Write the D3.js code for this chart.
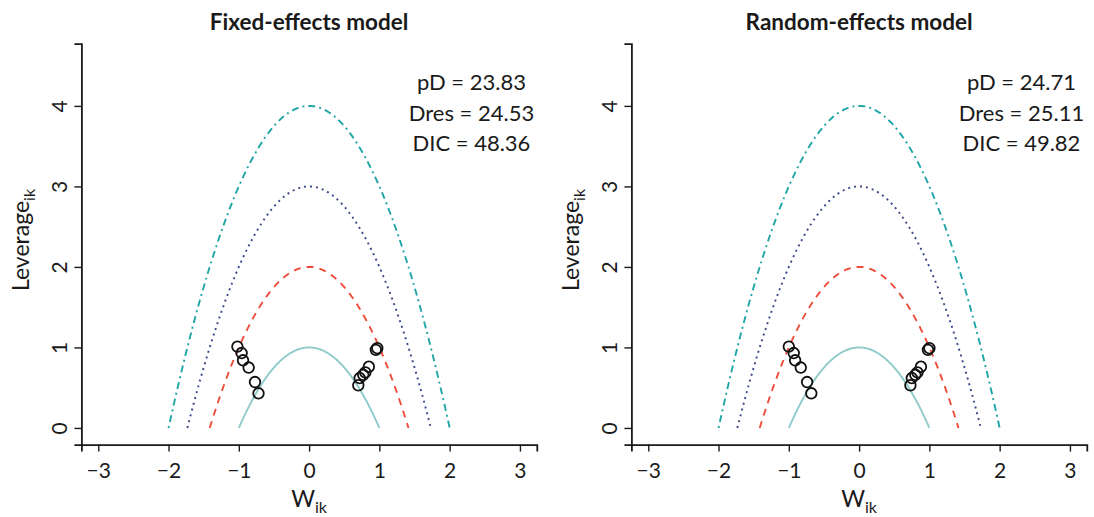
<!doctype html>
<html lang="en">
<head>
  <title>Leverage plots</title>
  <script src="https://d3js.org/d3.v7.min.js"></script>
  <style>
    body { margin: 0px; background: #fff; }
    text { font-family: Lato, sans-serif; fill: #1a1a1a; }
  </style>
</head>
<body>
  <div id="container"></div>
  <script>
    // data
    var panelTitles = ["Fixed-effects model", "Random-effects model"];
    var statLines = [
      ["pD = 23.83", "Dres = 24.53", "DIC = 48.36"],
      ["pD = 24.71", "Dres = 25.11", "DIC = 49.82"]
    ];
    var fixedW   = [-1.02, -0.96, -0.94, -0.86, -0.77, -0.72, 0.97, 0.95, 0.85, 0.80, 0.77, 0.72, 0.70];
    var fixedLev = [ 1.01,  0.93,  0.84,  0.75,  0.57,  0.43, 0.99, 0.97, 0.76, 0.69, 0.66, 0.62, 0.53];
    var randomW   = [-1.00, -0.93, -0.91, -0.83, -0.74, -0.68, 1.00, 0.98, 0.88, 0.83, 0.80, 0.75, 0.73];
    var randomLev = [ 1.01,  0.93,  0.84,  0.75,  0.57,  0.43, 0.99, 0.97, 0.76, 0.69, 0.66, 0.62, 0.53];
    var contourLevels = [1, 2, 3, 4];
    var xTicks = [-3, -2, -1, 0, 1, 2, 3];
    var yTicks = [0, 1, 2, 3, 4];

    var contourStyle = {
      1: { color: "#8fcbcb", dash: null },
      2: { color: "#ee4c3a", dash: "7,6" },
      3: { color: "#3c4a8a", dash: "2,4" },
      4: { color: "#20a5a6", dash: "2,4,7,4" }
    };

    var svg = d3.select("#container").append("svg")
      .attr("width", 1094)
      .attr("height", 517);

    var panels = [
      { left: 81.4, w: fixedW, lev: fixedLev },
      { left: 631.4, w: randomW, lev: randomLev }
    ];

    panels.forEach(function (p, i) {
      var x = d3.scaleLinear().domain([-3.24, 3.24]).range([p.left, p.left + 455.4]);
      var y = d3.scaleLinear().domain([-0.207, 4.774]).range([444.6, 43.6]);
      var g = svg.append("g");

      // contour parabolas: leverage = c - w^2
      var line = d3.line().x(function (d) { return x(d[0]); }).y(function (d) { return y(d[1]); });
      contourLevels.forEach(function (c) {
        var r = Math.sqrt(c);
        var pts = d3.range(0, 201).map(function (k) {
          var w = -r + 2 * r * k / 200;
          return [w, Math.max(0, c - w * w)];
        });
        g.append("path")
          .attr("d", line(pts))
          .attr("fill", "none")
          .attr("stroke", contourStyle[c].color)
          .attr("stroke-width", 1.9)
          .attr("stroke-dasharray", contourStyle[c].dash);
      });

      // points
      g.selectAll("circle.pt")
        .data(p.w.map(function (w, k) { return [w, p.lev[k]]; }))
        .enter().append("circle")
          .attr("class", "pt")
          .attr("cx", function (d) { return x(d[0]); })
          .attr("cy", function (d) { return y(d[1]); })
          .attr("r", 5.3)
          .attr("fill", "none")
          .attr("stroke", "#111")
          .attr("stroke-width", 1.8);

      // axes
      var xAxis = g.append("g")
        .attr("transform", "translate(0,444.6)")
        .call(d3.axisBottom(x).tickValues(xTicks).tickSize(7).tickPadding(6)
          .tickFormat(function (d) { return d < 0 ? "\u2212" + Math.abs(d) : d; }));
      var yAxis = g.append("g")
        .attr("transform", "translate(" + p.left + ",0)")
        .call(d3.axisLeft(y).tickValues(yTicks).tickSize(7).tickFormat(d3.format("d")));
      [xAxis, yAxis].forEach(function (a) {
        a.select(".domain").attr("stroke", "#1a1a1a").attr("stroke-width", 1.8);
        a.selectAll(".tick line").attr("stroke", "#1a1a1a").attr("stroke-width", 1.4);
        a.selectAll(".tick text").style("font-size", "21px").attr("fill", "#1a1a1a");
      });
      xAxis.selectAll(".tick text").attr("dy", "0.95em");
      yAxis.selectAll(".tick text")
        .attr("text-anchor", "middle")
        .attr("x", 0)
        .attr("y", 0)
        .attr("dy", "0.35em")
        .attr("transform", "translate(-22,0) rotate(-90)");

      // axis titles
      var xt = g.append("text")
        .attr("x", x(0))
        .attr("y", 507)
        .attr("text-anchor", "middle")
        .style("font-size", "23px");
      xt.append("tspan").text("W");
      xt.append("tspan").attr("dy", 6).style("font-size", "16px").text("ik");

      var yt = g.append("text")
        .attr("transform", "translate(" + (p.left - 52) + ",240) rotate(-90)")
        .attr("text-anchor", "middle")
        .style("font-size", "23px");
      yt.append("tspan").text("Leverage");
      yt.append("tspan").attr("dy", 6).style("font-size", "16px").text("ik");

      // panel title
      g.append("text")
        .attr("x", x(0))
        .attr("y", 30)
        .attr("text-anchor", "middle")
        .style("font-size", "22.5px")
        .style("font-weight", "bold")
        .text(panelTitles[i]);

      // statistics
      g.selectAll("text.stat")
        .data(statLines[i])
        .enter().append("text")
          .attr("class", "stat")
          .attr("x", x(2.31))
          .attr("y", function (d, k) { return 90 + k * 30.5; })
          .attr("text-anchor", "middle")
          .style("font-size", "22px")
          .text(function (d) { return d; });
    });
  </script>
</body>
</html>
